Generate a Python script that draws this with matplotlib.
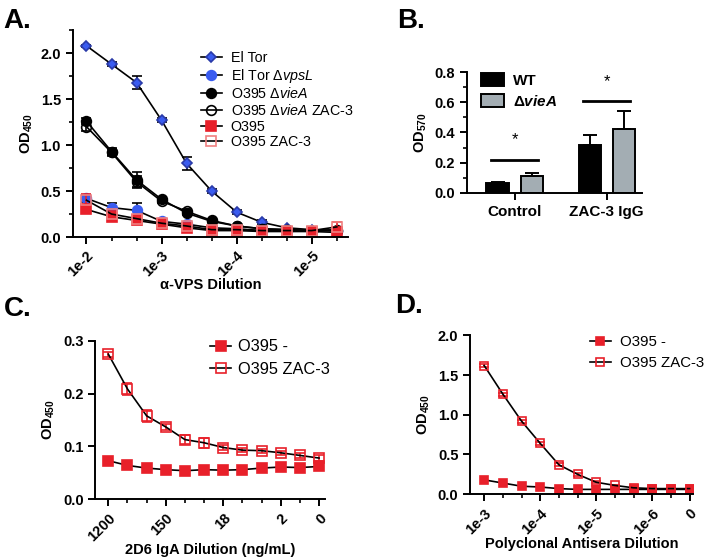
import numpy as np
import matplotlib.pyplot as plt
from matplotlib.ticker import MultipleLocator

plt.rcParams['font.family'] = ['Liberation Sans', 'DejaVu Sans']
plt.rcParams['mathtext.fontset'] = 'custom'
plt.rcParams['mathtext.rm'] = 'Liberation Sans'
plt.rcParams['mathtext.it'] = 'Liberation Sans:italic'
plt.rcParams['mathtext.bf'] = 'Liberation Sans:bold'
plt.rcParams['mathtext.bfit'] = 'Liberation Sans:bold:italic'

# ---- panel A data (alpha-VPS dilution series, 11 steps)
a_ticks = ['1e-2', '1e-3', '1e-4', '1e-5']
eltor = [2.08, 1.88, 1.68, 1.27, 0.80, 0.50, 0.27, 0.16, 0.10, 0.08, 0.07]
eltor_err = [0.01, 0.02, 0.07, 0.02, 0.07, 0.02, 0.02, 0.02, 0.01, 0.01, 0.01]
vpsl = [0.42, 0.32, 0.29, 0.17, 0.14, 0.10, 0.09, 0.07, 0.07, 0.07, 0.07]
vpsl_err = [0.04, 0.05, 0.08, 0.02, 0.02, 0.01, 0.01, 0.01, 0.01, 0.01, 0.01]
viea = [1.26, 0.93, 0.62, 0.41, 0.26, 0.17, 0.12, 0.09, 0.08, 0.07, 0.07]
viea_err = [0.03, 0.04, 0.09, 0.02, 0.02, 0.01, 0.01, 0.01, 0.01, 0.01, 0.01]
viea_zac = [1.20, 0.92, 0.60, 0.39, 0.28, 0.18, 0.12, 0.09, 0.08, 0.07, 0.08]
viea_zac_err = [0.05, 0.04, 0.06, 0.02, 0.02, 0.01, 0.01, 0.01, 0.01, 0.01, 0.01]
o395 = [0.30, 0.22, 0.18, 0.14, 0.10, 0.07, 0.07, 0.06, 0.06, 0.06, 0.05]
o395_err = [0.03, 0.03, 0.03, 0.01, 0.01, 0.01, 0.01, 0.01, 0.01, 0.01, 0.01]
o395_zac = [0.40, 0.25, 0.20, 0.15, 0.12, 0.08, 0.08, 0.07, 0.07, 0.07, 0.11]
o395_zac_err = [0.07, 0.03, 0.03, 0.02, 0.01, 0.01, 0.01, 0.01, 0.01, 0.01, 0.05]

# ---- panel B data
b_groups = ['Control', 'ZAC-3 IgG']
b_wt = [0.065, 0.32]
b_wt_err = [0.008, 0.065]
b_viea = [0.11, 0.42]
b_viea_err = [0.022, 0.12]

# ---- panel C data (2D6 IgA, 12 steps)
c_ticks = ['1200', '150', '18', '2', '0']
c_neg = [0.073, 0.064, 0.059, 0.056, 0.054, 0.056, 0.055, 0.056, 0.059, 0.061, 0.060, 0.062]
c_neg_err = [0.002, 0.002, 0.002, 0.002, 0.002, 0.002, 0.002, 0.002, 0.002, 0.002, 0.002, 0.002]
c_zac = [0.275, 0.209, 0.158, 0.137, 0.113, 0.107, 0.098, 0.093, 0.092, 0.088, 0.083, 0.078]
c_zac_err = [0.005, 0.012, 0.012, 0.005, 0.009, 0.009, 0.004, 0.004, 0.004, 0.004, 0.004, 0.005]

# ---- panel D data (polyclonal antisera, 12 steps)
d_ticks = ['1e-3', '1e-4', '1e-5', '1e-6', '0']
d_neg = [0.18, 0.14, 0.10, 0.09, 0.07, 0.06, 0.06, 0.06, 0.06, 0.06, 0.06, 0.06]
d_zac = [1.62, 1.26, 0.92, 0.64, 0.37, 0.25, 0.15, 0.11, 0.08, 0.07, 0.07, 0.07]
d_zac_err = [0.02, 0.02, 0.02, 0.02, 0.02, 0.02, 0.01, 0.01, 0.01, 0.01, 0.01, 0.01]

RED = '#e8202a'
BLUE = '#3a5cf0'
NAVY = '#2a3aa8'
GREY = '#a3adb3'
TICKFS = 10.5
LABFS = 10.5

fig = plt.figure(figsize=(7.06, 5.59), dpi=100)


def style(ax):
    for s in ['top', 'right']:
        ax.spines[s].set_visible(False)
    for s in ['left', 'bottom']:
        ax.spines[s].set_linewidth(1.4)
    ax.tick_params(width=1.4, length=5, labelsize=TICKFS)
    ax.tick_params(which='minor', width=1.2, length=3)
    for lab in ax.get_xticklabels() + ax.get_yticklabels():
        lab.set_fontweight('bold')


def curve(ax, y, err, label, mk, mfc, mec, ecol='black', ms=7):
    x = np.arange(len(y))
    if err is not None:
        ax.errorbar(x, y, yerr=err, fmt='none', ecolor=ecol, elinewidth=1.2,
                    capsize=3.5, capthick=1.2)
    ax.plot(x, y, color='black', lw=1.2, marker=mk, ms=ms,
            mfc=mfc, mec=mec, mew=1.2, label=label)


# ================= A
axA = fig.add_axes([0.103, 0.576, 0.390, 0.370])
curve(axA, eltor, eltor_err, 'El Tor', 'D', BLUE, NAVY, ms=5.5)
curve(axA, vpsl, vpsl_err, r'El Tor Δ$\mathit{vpsL}$', 'o', BLUE, BLUE)
curve(axA, viea, viea_err, r'O395 Δ$\mathit{vieA}$', 'o', 'black', 'black')
curve(axA, viea_zac, viea_zac_err, r'O395 Δ$\mathit{vieA}$ ZAC-3', 'o', 'none', 'black')
curve(axA, o395, o395_err, 'O395', 's', RED, RED, ms=6.5)
curve(axA, o395_zac, o395_zac_err, 'O395 ZAC-3', 's', 'none', '#f08080', ecol=RED, ms=6.5)
axA.set_xlim(-0.55, 10.45)
axA.set_ylim(0, 2.25)
axA.set_xticks(np.arange(len(eltor)), minor=True)
axA.set_xticks(np.arange(0, 10, 3))
axA.set_xticklabels(a_ticks, rotation=45, ha='right', rotation_mode='anchor')
axA.tick_params(axis='x', which='minor', length=5, width=1.4)
axA.yaxis.set_major_locator(MultipleLocator(0.5))
axA.yaxis.set_minor_locator(MultipleLocator(0.25))
axA.yaxis.set_major_formatter(plt.FormatStrFormatter('%.1f'))
axA.set_ylabel(r'OD$_{\mathbf{450}}$', fontsize=LABFS, fontweight='bold')
axA.set_xlabel('α-VPS Dilution', fontsize=LABFS, fontweight='bold')
axA.xaxis.set_label_coords(0.5, -0.2)
style(axA)
axA.legend(loc='upper left', bbox_to_anchor=(0.465, 0.9), frameon=False,
           fontsize=10.3, handlelength=1.5, handletextpad=0.6, labelspacing=0.12,
           borderaxespad=0, borderpad=0)

# ================= B
axB = fig.add_axes([0.661, 0.655, 0.248, 0.216])
gx = np.arange(len(b_groups))
off, w = 0.185, 0.24
axB.bar(gx - off, b_wt, w, color='black', edgecolor='black', lw=1.4, label='WT')
axB.bar(gx + off, b_viea, w, color=GREY, edgecolor='black', lw=1.4,
        label=r'Δ$\mathbfit{vieA}$')
axB.errorbar(gx - off, b_wt, yerr=[np.zeros(2), b_wt_err], fmt='none',
             ecolor='black', elinewidth=1.4, capsize=5, capthick=1.4)
axB.errorbar(gx + off, b_viea, yerr=[np.zeros(2), b_viea_err], fmt='none',
             ecolor='black', elinewidth=1.4, capsize=5, capthick=1.4)
# significance bars
sig_y = [0.22, 0.61]
for g, yy in zip(gx, sig_y):
    axB.plot([g - off - 0.07, g + off + 0.07], [yy, yy], color='black', lw=2)
    axB.text(g, yy + 0.08, '*', ha='center', va='bottom', fontsize=12)
axB.set_xlim(-0.52, 1.38)
axB.set_ylim(0, 0.8)
axB.set_xticks(gx)
axB.set_xticklabels(b_groups)
axB.yaxis.set_major_locator(MultipleLocator(0.2))
axB.yaxis.set_minor_locator(MultipleLocator(0.1))
axB.yaxis.set_major_formatter(plt.FormatStrFormatter('%.1f'))
axB.set_ylabel(r'OD$_{\mathbf{570}}$', fontsize=LABFS, fontweight='bold')
style(axB)
axB.tick_params(axis='x', labelsize=11)
lg = axB.legend(loc='upper left', bbox_to_anchor=(0.08, 0.99), frameon=False,
                fontsize=11, handlelength=1.5, handleheight=0.9,
                handletextpad=0.6, labelspacing=0.4, borderaxespad=0, borderpad=0)
for t in lg.get_texts():
    t.set_fontweight('bold')

# ================= C
axC = fig.add_axes([0.135, 0.107, 0.325, 0.283])
curve(axC, c_neg, c_neg_err, 'O395 -', 's', RED, RED, ecol=RED, ms=6.5)
curve(axC, c_zac, c_zac_err, 'O395 ZAC-3', 's', 'none', RED, ecol=RED, ms=6.5)
axC.set_xlim(-0.68, 11.3)
axC.set_ylim(0, 0.3)
axC.set_xticks(np.arange(len(c_neg)), minor=True)
axC.set_xticks([0, 3, 6, 9, 11])
axC.set_xticklabels(c_ticks, rotation=45, ha='right', rotation_mode='anchor')
axC.tick_params(axis='x', which='minor', length=5, width=1.4)
axC.yaxis.set_major_locator(MultipleLocator(0.1))
axC.yaxis.set_major_formatter(plt.FormatStrFormatter('%.1f'))
axC.set_ylabel(r'OD$_{\mathbf{450}}$', fontsize=LABFS, fontweight='bold')
axC.set_xlabel('2D6 IgA Dilution (ng/mL)', fontsize=LABFS, fontweight='bold')
axC.xaxis.set_label_coords(0.5, -0.275)
style(axC)
axC.legend(loc='upper left', bbox_to_anchor=(0.50, 1.01), frameon=False,
           fontsize=11.8, handlelength=1.3, handletextpad=0.4, labelspacing=0.45,
           borderaxespad=0, borderpad=0)

# ================= D
axD = fig.add_axes([0.666, 0.116, 0.316, 0.284])
curve(axD, d_neg, None, 'O395 -', 's', RED, RED, ecol=RED, ms=6)
curve(axD, d_zac, d_zac_err, 'O395 ZAC-3', 's', 'none', RED, ecol=RED, ms=6)
axD.set_xlim(-0.75, 11.2)
axD.set_ylim(0, 2.0)
axD.set_xticks(np.arange(len(d_neg)), minor=True)
axD.set_xticks([0, 3, 6, 9, 11])
axD.set_xticklabels(d_ticks, rotation=45, ha='right', rotation_mode='anchor')
axD.tick_params(axis='x', which='minor', length=5, width=1.4)
axD.yaxis.set_major_locator(MultipleLocator(0.5))
axD.yaxis.set_major_formatter(plt.FormatStrFormatter('%.1f'))
axD.set_ylabel(r'OD$_{\mathbf{450}}$', fontsize=LABFS, fontweight='bold')
axD.set_xlabel('Polyclonal Antisera Dilution', fontsize=LABFS, fontweight='bold')
axD.xaxis.set_label_coords(0.5, -0.27)
style(axD)
axD.legend(loc='upper left', bbox_to_anchor=(0.535, 1.0), frameon=False,
           fontsize=10.8, handlelength=1.4, handletextpad=0.6, labelspacing=0.45,
           borderaxespad=0, borderpad=0)

# panel letters
for txt, x, y in [('A.', 0.005, 0.985), ('B.', 0.563, 0.985),
                  ('C.', 0.005, 0.47), ('D.', 0.56, 0.475)]:
    fig.text(x, y, txt, fontsize=20, fontweight='bold', va='top', ha='left')

fig.savefig('out.png', dpi=100)
